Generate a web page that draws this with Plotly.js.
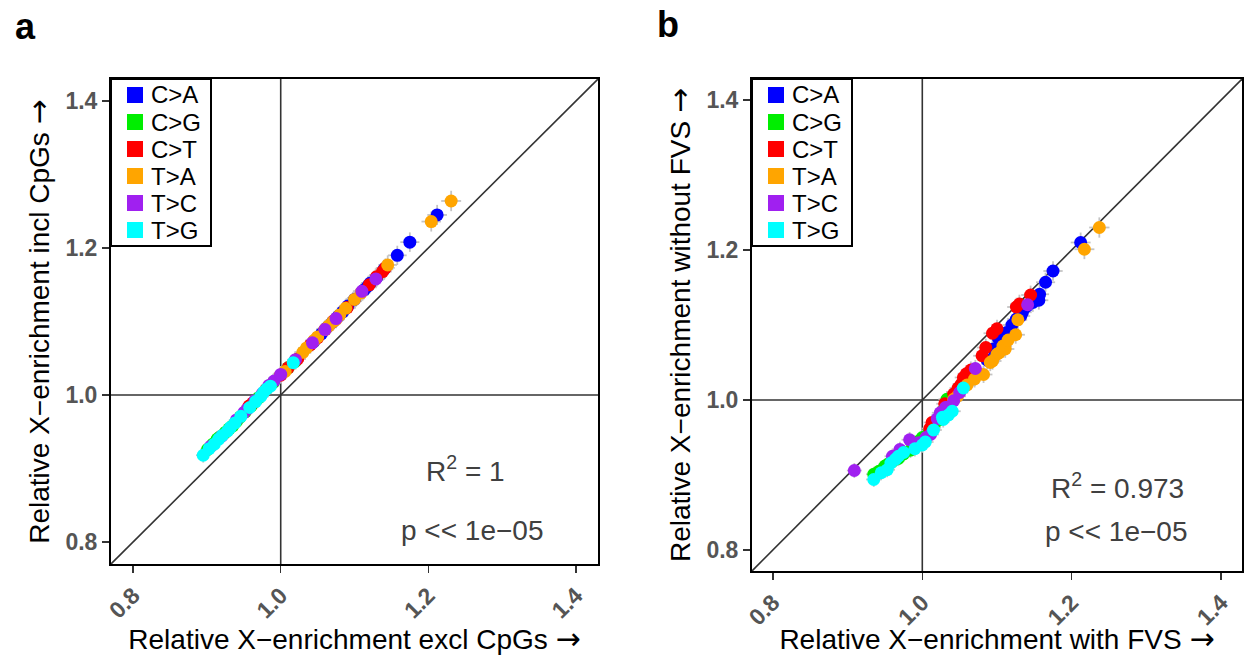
<!DOCTYPE html>
<html>
<head>
<meta charset="utf-8">
<script src="https://cdn.plot.ly/plotly-3.0.1.min.js"></script>
<style>html,body{margin:0;padding:0;background:#fff;}#chart{width:1248px;height:656px;}</style>
</head>
<body>
<div id="chart"></div>
<script>
// ---------- data ----------
const categories = ['C>A', 'C>G', 'C>T', 'T>A', 'T>C', 'T>G'];
const tickVals = [0.8, 1.0, 1.2, 1.4];
const tickText = ['0.8', '1.0', '1.2', '1.4'];

// Panel a: excl CpGs (x) vs incl CpGs (y)
const a_excl_CA = [1.212, 1.175, 1.158, 1.140, 1.130, 1.118, 1.113, 1.091, 1.084, 1.078, 1.055, 1.062, 1.121, 1.070, 1.100, 1.045];
const a_incl_CA = [1.245, 1.208, 1.190, 1.171, 1.160, 1.148, 1.143, 1.121, 1.113, 1.107, 1.083, 1.091, 1.152, 1.099, 1.130, 1.073];
const a_excl_CG = [0.901, 0.914, 0.935, 0.964, 0.952, 0.925, 0.908, 0.945, 0.960, 0.990, 1.010, 0.970, 0.918, 0.940, 1.020, 0.930];
const a_incl_CG = [0.926, 0.940, 0.958, 0.990, 0.977, 0.949, 0.933, 0.970, 0.985, 1.017, 1.037, 0.996, 0.943, 0.964, 1.046, 0.954];
const a_excl_CT = [1.142, 1.138, 1.023, 1.020, 0.957, 0.962, 1.040, 1.072, 1.090, 1.010, 1.000, 1.130, 1.060, 1.120, 0.980, 1.050];
const a_incl_CT = [1.173, 1.168, 1.049, 1.047, 0.985, 0.989, 1.068, 1.101, 1.119, 1.037, 1.027, 1.161, 1.089, 1.150, 1.007, 1.078];
const a_excl_TA = [1.231, 1.204, 1.145, 1.109, 1.088, 1.080, 1.075, 1.070, 1.065, 1.060, 1.035, 1.006, 1.030, 1.100, 1.050, 1.045];
const a_incl_TA = [1.264, 1.236, 1.177, 1.139, 1.118, 1.109, 1.103, 1.099, 1.094, 1.089, 1.064, 1.032, 1.058, 1.130, 1.079, 1.074];
const a_excl_TC = [1.129, 1.043, 0.991, 0.984, 0.955, 0.950, 1.000, 1.060, 1.110, 0.940, 0.920, 0.905, 1.020, 0.975, 1.075, 0.965];
const a_incl_TC = [1.158, 1.071, 1.019, 1.013, 0.981, 0.976, 1.028, 1.089, 1.141, 0.966, 0.944, 0.930, 1.048, 1.002, 1.104, 0.992];
const a_excl_TG = [0.895, 0.910, 0.921, 0.928, 0.932, 0.946, 0.973, 0.977, 0.981, 1.017, 0.938, 0.903, 0.916, 0.986, 0.966, 0.958];
const a_incl_TG = [0.918, 0.933, 0.945, 0.951, 0.956, 0.971, 0.998, 1.004, 1.008, 1.044, 0.962, 0.927, 0.940, 1.012, 0.991, 0.983];

// Panel b: with FVS (x) vs without FVS (y)
const b_with_CA = [1.212, 1.175, 1.165, 1.157, 1.156, 1.134, 1.132, 1.113, 1.105, 1.102, 1.087, 1.140, 1.120, 1.095, 1.148, 1.126];
const b_wout_CA = [1.210, 1.172, 1.157, 1.141, 1.133, 1.117, 1.112, 1.090, 1.077, 1.082, 1.053, 1.125, 1.100, 1.068, 1.130, 1.108];
const b_with_CG = [1.014, 0.984, 0.950, 0.935, 1.033, 1.008, 0.995, 0.960, 0.975, 1.020, 0.942, 1.000, 0.968, 0.990, 1.027, 0.955];
const b_wout_CG = [0.963, 0.933, 0.912, 0.901, 1.001, 0.955, 0.945, 0.918, 0.928, 0.972, 0.905, 0.950, 0.922, 0.940, 0.985, 0.915];
const b_with_CT = [1.145, 1.126, 1.094, 1.080, 1.059, 1.055, 1.052, 1.042, 1.013, 1.010, 1.048, 1.065, 1.100, 1.130, 1.030, 1.085];
const b_wout_CT = [1.140, 1.124, 1.089, 1.059, 1.035, 1.030, 1.021, 1.008, 0.970, 0.962, 1.016, 1.040, 1.095, 1.128, 0.995, 1.070];
const b_with_TA = [1.237, 1.217, 1.128, 1.125, 1.108, 1.111, 1.103, 1.094, 1.082, 1.047, 1.042, 1.100, 1.091, 1.115, 1.060, 1.070];
const b_wout_TA = [1.230, 1.201, 1.107, 1.087, 1.072, 1.068, 1.063, 1.052, 1.034, 1.005, 1.001, 1.061, 1.050, 1.080, 1.020, 1.028];
const b_with_TC = [1.141, 1.071, 1.042, 1.033, 1.026, 1.011, 0.995, 0.983, 0.970, 0.909, 1.024, 1.031, 1.005, 0.960, 1.050, 1.020];
const b_wout_TC = [1.127, 1.042, 0.999, 0.990, 0.983, 0.954, 0.943, 0.947, 0.934, 0.906, 0.983, 0.990, 0.950, 0.925, 1.010, 0.975];
const b_with_TG = [1.055, 1.040, 1.028, 1.027, 1.004, 0.968, 0.964, 0.953, 0.935, 1.000, 0.958, 1.015, 0.975, 1.035, 0.945, 0.990];
const b_wout_TG = [1.016, 0.985, 0.974, 0.977, 0.944, 0.925, 0.921, 0.907, 0.894, 0.940, 0.916, 0.960, 0.930, 0.980, 0.903, 0.935];

const statsA = ['R<sup>2</sup> = 1', 'p &lt;&lt; 1e\u221205'];
const statsB = ['R<sup>2</sup> = 0.973', 'p &lt;&lt; 1e\u221205'];
const titles = {
  ax: 'Relative X\u2212enrichment excl CpGs',
  ay: 'Relative X\u2212enrichment incl CpGs',
  bx: 'Relative X\u2212enrichment with FVS',
  by: 'Relative X\u2212enrichment without FVS'
};

// ---------- styling ----------
const colors = ['#0000ff', '#00ee00', '#ff0000', '#ffa500', '#a020f0', '#00ffff'];
const FONT = 'Liberation Sans, Arial, Helvetica, sans-serif';
const ARROW = ' <span style="font-family:DejaVu Sans;font-size:30px">\u2192</span>';
const MS = 13;

const panelA = [[a_excl_CA, a_incl_CA], [a_excl_CG, a_incl_CG], [a_excl_CT, a_incl_CT],
                [a_excl_TA, a_incl_TA], [a_excl_TC, a_incl_TC], [a_excl_TG, a_incl_TG]];
const panelB = [[b_with_CA, b_wout_CA], [b_with_CG, b_wout_CG], [b_with_CT, b_wout_CT],
                [b_with_TA, b_wout_TA], [b_with_TC, b_wout_TC], [b_with_TG, b_wout_TG]];

const traces = [];
function addPanel(panel, xa, ya) {
  // error bars first (beneath all points)
  panel.forEach(function (p) {
    traces.push({
      type: 'scatter', mode: 'markers', x: p[0], y: p[1], xaxis: xa, yaxis: ya,
      marker: {size: MS, opacity: 0}, showlegend: false, hoverinfo: 'skip',
      error_x: {type: 'percent', value: 1.1, color: '#c4c4c4', thickness: 1.8, width: 0},
      error_y: {type: 'percent', value: 1.1, color: '#c4c4c4', thickness: 1.8, width: 0}
    });
  });
  panel.forEach(function (p, i) {
    traces.push({
      type: 'scatter', mode: 'markers', x: p[0], y: p[1], xaxis: xa, yaxis: ya,
      name: categories[i], showlegend: false,
      marker: {size: MS, color: colors[i], line: {width: 0}}
    });
  });
}
addPanel(panelA, 'x', 'y');
addPanel(panelB, 'x2', 'y2');

function axis(domain, range, anchor, isX, title, standoff) {
  return {
    domain: domain, range: range, anchor: anchor,
    showgrid: false, zeroline: false,
    showline: true, mirror: true, linecolor: '#000', linewidth: 2,
    ticks: 'outside', ticklen: 7, tickwidth: 1.5, tickcolor: '#333',
    tickvals: tickVals, ticktext: tickText,
    tickangle: isX ? -45 : 0,
    tickfont: {family: FONT, size: 23, color: '#555555', weight: 'bold'},
    title: {text: title + ARROW, font: {family: FONT, size: 28, color: '#000'}, standoff: standoff},
    automargin: false,
    fixedrange: true
  };
}

const W = 1248, H = 656;
const px = function (v) { return v / W; };
const py = function (v) { return 1 - v / H; };

const aX = [px(111), px(598)], aY = [py(564), py(79)];
const bX = [px(752), px(1242)], bY = [py(571), py(79)];
const rA = [0.770, 1.430], rB = [0.772, 1.428];

const lineStyle = {color: '#333333', width: 1.6};
function refShapes(xr, yr, r) {
  return [
    {type: 'line', xref: xr, yref: yr + ' domain', x0: 1, x1: 1, y0: 0, y1: 1, line: lineStyle, layer: 'below'},
    {type: 'line', xref: xr + ' domain', yref: yr, x0: 0, x1: 1, y0: 1, y1: 1, line: lineStyle, layer: 'below'},
    {type: 'line', xref: xr, yref: yr, x0: r[0], x1: r[1], y0: r[0], y1: r[1], line: lineStyle, layer: 'below'}
  ];
}

const txt = function (x, y, text, size, opts) {
  return Object.assign({
    xref: 'paper', yref: 'paper', x: px(x), y: py(y), text: text, showarrow: false,
    xanchor: 'center', yanchor: 'middle',
    font: {family: FONT, size: size, color: '#000'}
  }, opts || {});
};
const statFont = {family: FONT, size: 28, color: '#404040'};

const annotations = [
  txt(25, 27, '<b>a</b>', 36),
  txt(668, 25, '<b>b</b>', 36),
  txt(465, 469, statsA[0], 28, {font: statFont}),
  txt(472, 530, statsA[1], 28, {font: statFont}),
  txt(1117, 486, statsB[0], 28, {font: statFont}),
  txt(1116, 531, statsB[1], 28, {font: statFont})
];

// legend boxes drawn in paper space
const shapes = refShapes('x', 'y', rA).concat(refShapes('x2', 'y2', rB));
function addLegend(left) {
  shapes.push({type: 'rect', xref: 'paper', yref: 'paper', x0: px(left), x1: px(left + 100),
               y0: py(246), y1: py(79), line: {color: '#000', width: 2}, fillcolor: '#fff', layer: 'above'});
  categories.forEach(function (c, i) {
    const cy = 95 + 27 * i;
    shapes.push({type: 'rect', xref: 'paper', yref: 'paper', x0: px(left + 16), x1: px(left + 32),
                 y0: py(cy + 8), y1: py(cy - 8), line: {width: 0}, fillcolor: colors[i], layer: 'above'});
    annotations.push(txt(left + 38, cy, c, 24, {xanchor: 'left'}));
  });
}
addLegend(111);
addLegend(752);

const layout = {
  width: W, height: H,
  margin: {l: 0, r: 0, t: 0, b: 0, pad: 0},
  paper_bgcolor: '#fff', plot_bgcolor: '#fff',
  font: {family: FONT},
  showlegend: false,
  xaxis: axis(aX, rA, 'y', true, titles.ax, 12),
  yaxis: axis(aY, rA, 'x', false, titles.ay, 8),
  xaxis2: axis(bX, rB, 'y2', true, titles.bx, 12),
  yaxis2: axis(bY, rB, 'x2', false, titles.by, 8),
  shapes: shapes,
  annotations: annotations
};

Plotly.newPlot('chart', traces, layout, {staticPlot: true, displayModeBar: false});
</script>
</body>
</html>
